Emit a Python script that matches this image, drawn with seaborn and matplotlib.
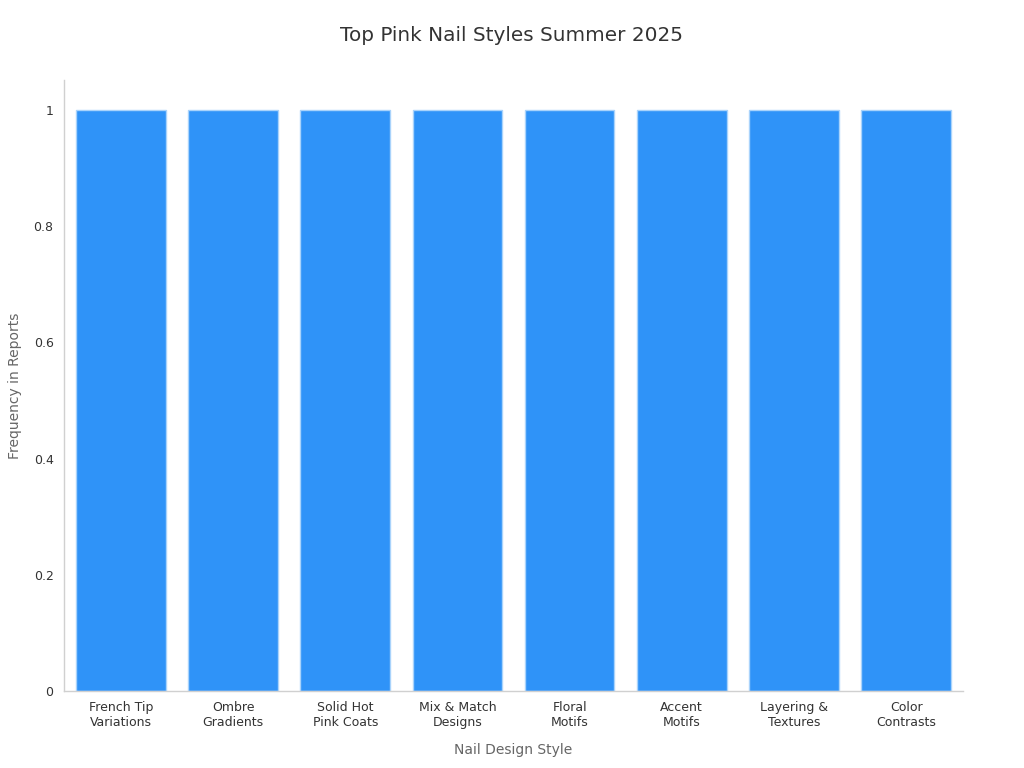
import matplotlib
matplotlib.use("Agg")
import matplotlib.pyplot as plt
import seaborn as sns
import pandas as pd

# Daten
styles = ["French Tip\nVariations", "Ombre\nGradients", "Solid Hot\nPink Coats",
          "Mix & Match\nDesigns", "Floral\nMotifs", "Accent\nMotifs",
          "Layering &\nTextures", "Color\nContrasts"]
frequency = [1, 1, 1, 1, 1, 1, 1, 1]

df = pd.DataFrame({"Style": styles, "Frequency": frequency})

sns.set_style("white")
plt.rcParams['font.family'] = ['DejaVu Sans']

fig = plt.figure(figsize=(10.24, 7.68), dpi=100)
ax = fig.add_axes([0.0625, 0.1003, 0.8779, 0.7956])

sns.barplot(data=df, x="Style", y="Frequency", color="#2F93F8", saturation=1,
            width=0.8, edgecolor="#A9D3FB", linewidth=1, ax=ax)

ax.set_xlim(-0.507, 7.507)
ax.set_ylim(0, 1.052)
ax.set_yticks([0, 0.2, 0.4, 0.6, 0.8, 1])
ax.set_yticklabels(["0", "0.2", "0.4", "0.6", "0.8", "1"])

for side in ["top", "right"]:
    ax.spines[side].set_visible(False)
for side in ["left", "bottom"]:
    ax.spines[side].set_color("#D0D0D0")
    ax.spines[side].set_linewidth(1)

ax.tick_params(axis="both", labelsize=9, colors="#333333", length=4, width=1)
ax.tick_params(axis="both", color="#666666")

ax.set_xlabel("Nail Design Style", fontsize=10, color="#666666", labelpad=10)
ax.set_ylabel("Frequency in Reports", fontsize=10, color="#666666", labelpad=8)
fig.suptitle("Top Pink Nail Styles Summer 2025", fontsize=14.4, color="#333333", y=0.966)

plt.savefig("out.png", dpi=100)
